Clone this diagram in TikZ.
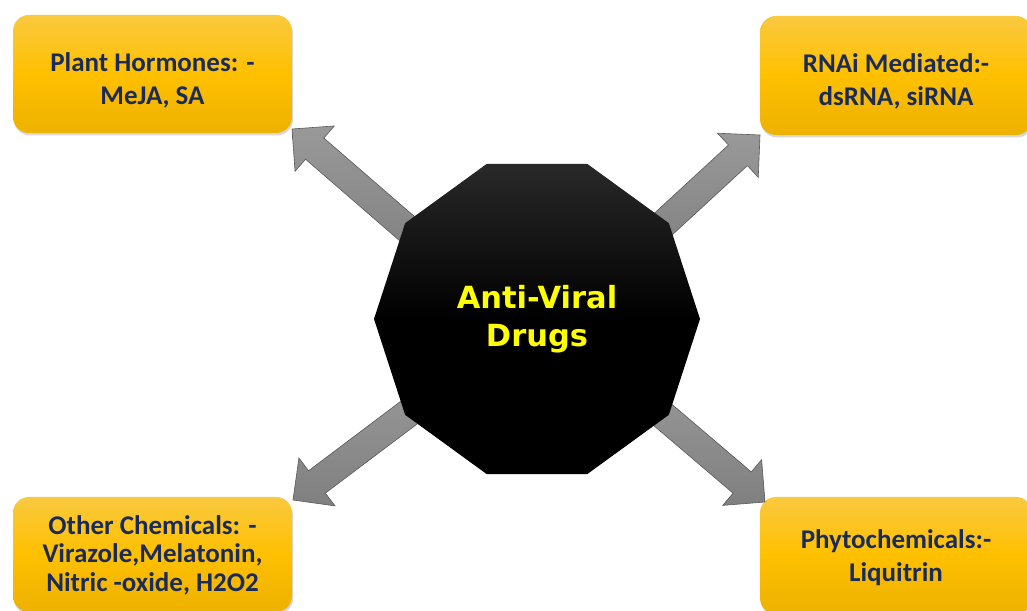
\documentclass[tikz,border=0pt]{standalone}
\usepackage{fontspec}
\usetikzlibrary{shapes.geometric,shadows,calc}
\newfontfamily\boxfont{Carlito}
\newfontfamily\hubfont{DejaVu Sans}
\definecolor{navy}{HTML}{1B2B58}
\definecolor{goldtop}{HTML}{F9C93F}
\definecolor{goldmid}{HTML}{FFC000}
\definecolor{goldbot}{HTML}{EDB100}
\definecolor{hubyellow}{HTML}{FFFF00}
\tikzset{
  infobox/.style={rectangle, rounded corners=16pt, top color=goldtop, bottom color=goldbot, middle color=goldmid,
    minimum width=279pt, minimum height=118pt, inner sep=0pt,
    drop shadow={shadow xshift=1pt, shadow yshift=-2.5pt, opacity=0.3}},
  boxtext/.style={inner sep=0pt, align=center, text=navy,
    font=\boxfont\bfseries\fontsize{27}{33}\selectfont},
  hub/.style={regular polygon, regular polygon sides=10, minimum size=326pt, inner sep=0pt, outer sep=0pt,
    top color=black!84, bottom color=black, middle color=black, text=hubyellow, align=center,
    font=\hubfont\bfseries\fontsize{30.5}{38}\selectfont},
  blockarrowstyle/.style={draw=black!65, line width=0.6pt, top color=black!40, bottom color=black!50, line join=miter}
}
\newcommand{\blockarrow}[2]{%
  \coordinate (hb) at ($(#2)!30pt!(#1)$);
  \path[blockarrowstyle] ($(#1)!14pt!90:(#2)$) -- ($(hb)!14pt!-90:(#1)$) -- ($(hb)!30pt!-90:(#1)$)
    -- (#2) -- ($(hb)!30pt!90:(#1)$) -- ($(hb)!14pt!90:(#1)$) -- ($(#1)!14pt!-90:(#2)$) -- cycle;
}
\begin{document}
\begin{tikzpicture}[x=1pt,y=1pt]
\useasboundingbox (0,0) rectangle (1027,610);
\fill[white] (0,0) rectangle (1027,610);

% boxes
\node[infobox] (hormones) at (152.5,536) {};
\node[boxtext] (hormonestext) at ([yshift=-6pt]hormones.center) {Plant Hormones: -\\MeJA, SA};
\node[infobox, minimum width=272pt, minimum height=119pt] (rnai) at (896,534.5) {};
\node[boxtext] (rnaitext) at ([yshift=-6pt]rnai.center) {RNAi Mediated:-\\dsRNA, siRNA};
\node[infobox, minimum height=115pt] (chem) at (152.5,55.5) {};
\node[boxtext, font=\boxfont\bfseries\fontsize{27}{28.5}\selectfont] (chemtext) at ([yshift=-0.5pt]chem.center)
  {Other Chemicals: -\\Virazole,Melatonin,\\Nitric -oxide, H2O2};
\node[infobox, minimum width=272pt, minimum height=117pt] (phyto) at (896,54.5) {};
\node[boxtext] (phytotext) at ([yshift=-2.5pt]phyto.center) {Phytochemicals:-\\Liquitrin};

% arrow anchors
\coordinate (ctr) at (537,291);
\coordinate (s1) at (441,352);  \coordinate (t1) at (292,481);
\coordinate (s2) at (634,359);  \coordinate (t2) at (760,475);
\coordinate (s3) at (443,223);  \coordinate (t3) at (293,110);
\coordinate (s4) at (630,223);  \coordinate (t4) at (765,108);

\blockarrow{s1}{t1}
\blockarrow{s2}{t2}
\blockarrow{s3}{t3}
\blockarrow{s4}{t4}

% hub
\node[hub] (drugs) at (ctr) {Anti-Viral\\Drugs};
\end{tikzpicture}
\end{document}
